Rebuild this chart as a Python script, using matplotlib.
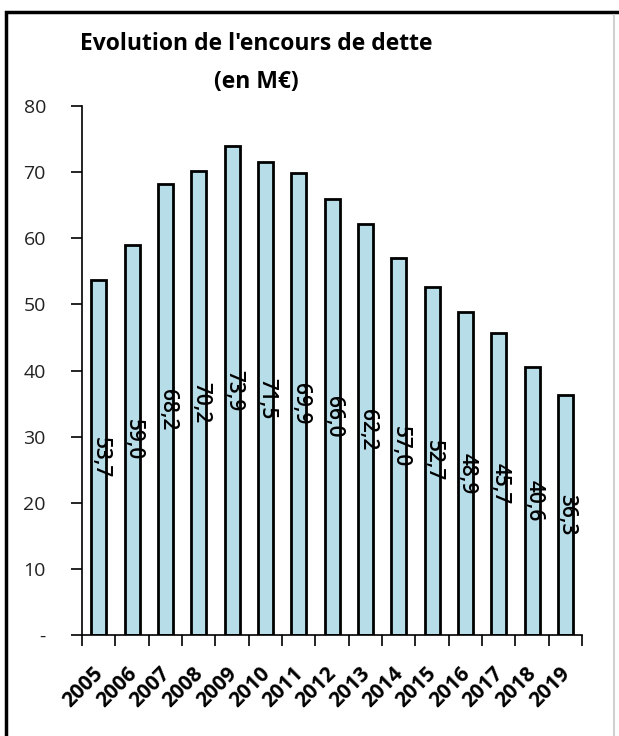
import matplotlib.pyplot as plt
from matplotlib.patches import Rectangle
from matplotlib.transforms import ScaledTranslation

years = ['2005', '2006', '2007', '2008', '2009', '2010', '2011', '2012',
         '2013', '2014', '2015', '2016', '2017', '2018', '2019']
encours = [53.7, 59.0, 68.2, 70.2, 73.9, 71.5, 69.9, 66.0,
           62.2, 57.0, 52.7, 48.9, 45.7, 40.6, 36.3]
y_ticks = [0, 10, 20, 30, 40, 50, 60, 70, 80]
y_labels = ['-', '10', '20', '30', '40', '50', '60', '70', '80']

plt.rcParams['font.family'] = ['Open Sans', 'DejaVu Sans']

fig = plt.figure(figsize=(6.19, 7.36), dpi=100)
ax = fig.add_axes([82 / 619, 1 - 635 / 736, 500 / 619, 529 / 736])

x = list(range(len(years)))
bars = ax.bar(x, encours, width=0.45, color='#b7dde8', edgecolor='black', linewidth=2)

for xi, v in zip(x, encours):
    ax.text(xi + 0.05, v / 2, f"{v:.1f}".replace('.', ','), rotation=270,
            ha='center', va='center', fontsize=15, color='black', fontweight='semibold')

ax.set_xlim(-0.5, len(years) - 0.5)
ax.set_ylim(0, 80)
ax.set_yticks(y_ticks)
ax.set_yticklabels(y_labels, fontsize=14, color='#222222')
ax.set_xticks([i - 0.5 for i in range(len(years) + 1)], minor=False)
ax.set_xticklabels([])
ax.set_xticks(x, minor=True)
ax.set_xticklabels(years, minor=True, rotation=45, ha='right', rotation_mode='anchor',
                   fontsize=15, fontweight='bold')
ax.tick_params(axis='x', which='major', length=8, width=1.2, direction='out')
ax.tick_params(axis='x', which='minor', length=0, pad=20)
ax.tick_params(axis='y', length=8, width=1.2, pad=18)
shift = ScaledTranslation(-6 / 100, 0, fig.dpi_scale_trans)
for lab in ax.get_xticklabels(minor=True):
    lab.set_transform(lab.get_transform() + shift)
for s in ['top', 'right']:
    ax.spines[s].set_visible(False)
ax.spines['left'].set_linewidth(1.2)
ax.spines['bottom'].set_linewidth(1.2)

fig.text(256 / 619, 1 - 44 / 736, "Evolution de l'encours de dette", ha='center', va='center',
         fontsize=16.5, fontweight='bold')
fig.text(256 / 619, 1 - 82 / 736, "(en M€)", ha='center', va='center',
         fontsize=16.5, fontweight='bold')

fig.patches.append(Rectangle((6 / 619, -0.1), 1.2, 1 - 12 / 736 + 0.1, transform=fig.transFigure,
                             fill=False, edgecolor='black', linewidth=2.5))
fig.patches.append(Rectangle((613 / 619, 0), 0.001, 1 - 14 / 736, transform=fig.transFigure,
                             fill=False, edgecolor='#d0d0d0', linewidth=0.8))

fig.savefig('out.png', dpi=100)
